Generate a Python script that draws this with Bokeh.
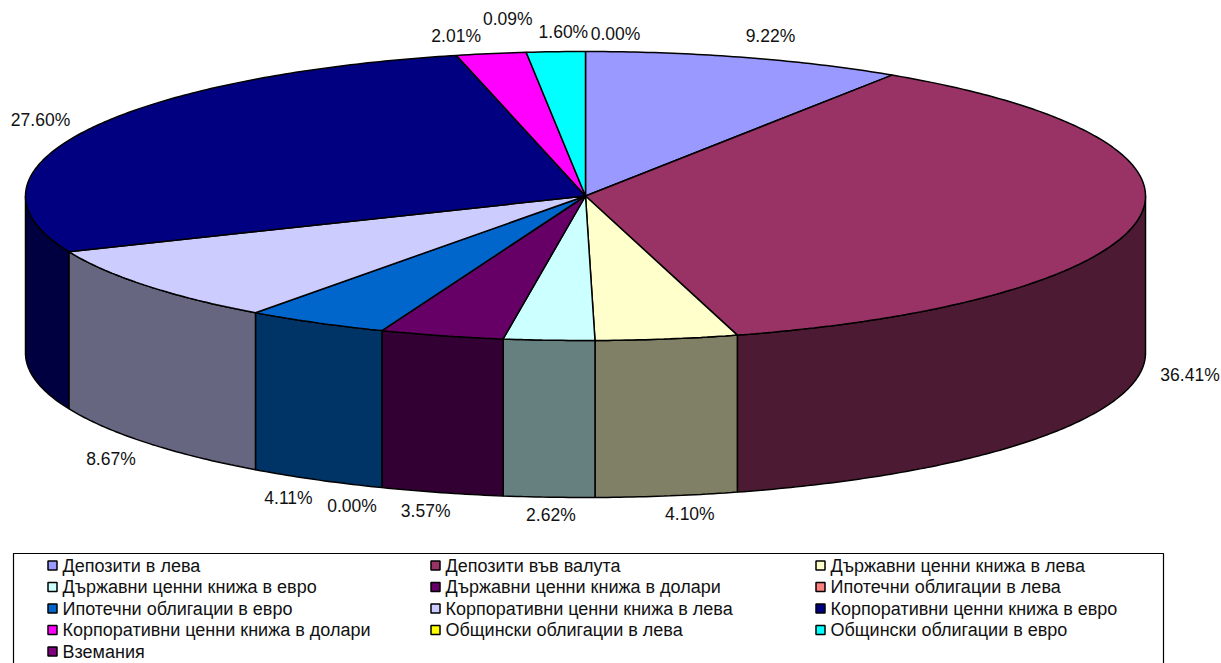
import math
from bokeh.plotting import figure
from bokeh.models import Range1d
from bokeh.core.properties import value
from bokeh.embed import file_html
from bokeh.resources import INLINE

categories = ["Депозити в лева", "Депозити във валута", "Държавни ценни книжа в лева",
              "Държавни ценни книжа в евро", "Държавни ценни книжа в долари", "Ипотечни облигации в лева",
              "Ипотечни облигации в евро", "Корпоративни ценни книжа в лева", "Корпоративни ценни книжа в евро",
              "Корпоративни ценни книжа в долари", "Общински облигации в лева", "Общински облигации в евро",
              "Вземания"]
shares = [9.22, 36.41, 4.10, 2.62, 3.57, 0.00, 4.11, 8.67, 27.60, 2.01, 0.09, 1.60, 0.00]
colors = ["#9999FF", "#993366", "#FFFFCC", "#CCFFFF", "#660066", "#FF8080", "#0066CC",
          "#CCCCFF", "#000080", "#FF00FF", "#FFFF00", "#00FFFF", "#800080"]
side_colors = ["#4D4D80", "#4D1A33", "#808066", "#668080", "#330033", "#804040", "#003366",
               "#666680", "#000040", "#800080", "#808000", "#008080", "#400040"]

# layout (page pixels)
CX, CY, RX, RY, DEPTH = 585, 195.5, 560, 144.5, 157
label_dx = [25, 51, 23, 2, -16, -30, -28, -35, -46, -35, -20, 6, 30]
label_dy = [-22, 0, 18, 18, 18, 18, 18, 16, -10, -18, -33, -20, -18]

p = figure(width=1221, height=663, output_backend="svg", toolbar_location=None,
           x_range=Range1d(0, 1221), y_range=Range1d(663, 0),
           x_axis_type=None, y_axis_type=None, min_border=0, outline_line_color=None)
p.grid.visible = False


def rim(a, dz=0.0):
    return CX + RX * math.sin(a), CY - RY * math.cos(a) + dz


def arc(a0, a1):
    n = max(2, int(abs(a1 - a0) * 90))
    return [a0 + (a1 - a0) * k / n for k in range(n + 1)]


total = sum(shares)
edges = [0.0]
for s in shares:
    edges.append(edges[-1] + s / total * 2 * math.pi)

wx, wy, wc = [], [], []
tx, ty, tc = [], [], []
lx, ly, lt = [], [], []
drawn_to = 0.0
for i, s in enumerate(shares):
    a0, a1 = edges[i], edges[i + 1]
    mid = (a0 + a1) / 2
    bx, by = rim(mid, DEPTH if math.cos(mid) < 0 else 0)
    lx.append(bx + label_dx[i])
    ly.append(by + label_dy[i])
    lt.append(f"{s:.2f}%")
    # slices under 0.1% are too thin to show: the next slice covers them
    if s < 0.1:
        continue
    a0 = drawn_to
    drawn_to = a1
    w0, w1 = max(a0, math.pi / 2), min(a1, 3 * math.pi / 2)
    if w1 > w0:
        top = [rim(a) for a in arc(w0, w1)]
        bot = [rim(a, DEPTH) for a in arc(w1, w0)]
        wx.append([q[0] for q in top + bot])
        wy.append([q[1] for q in top + bot])
        wc.append(side_colors[i])
    pts = [(CX, CY)] + [rim(a) for a in arc(a0, a1)]
    tx.append([q[0] for q in pts])
    ty.append([q[1] for q in pts])
    tc.append(colors[i])

p.patches(wx, wy, fill_color=wc, line_color="black", line_width=1.5)
p.patches(tx, ty, fill_color=tc, line_color="black", line_width=1.5)
p.text(lx, ly, text=lt, text_font=value("Liberation Sans"), text_font_size="17.5px",
       text_align="center", text_baseline="middle", text_color="#111111")

# legend
LEFT, RIGHT, TOP, ROW0, ROWH = 13, 1163, 553, 565, 21.5
COLX = [47, 430, 815]
p.line([LEFT, LEFT, RIGHT, RIGHT], [700, TOP, TOP, 700], line_color="black", line_width=1.2)
mx = [COLX[i % 3] + 5 for i in range(len(categories))]
my = [ROW0 + ROWH * (i // 3) for i in range(len(categories))]
p.rect(mx, my, width=9, height=9, fill_color=colors, line_color="black", line_width=1.5)
p.text([m + 10 for m in mx], my, text=categories, text_font=value("Liberation Sans"), text_font_size="18px",
       text_align="left", text_baseline="middle", text_color="#111111")

open("out.html", "w").write(file_html(p, INLINE))
